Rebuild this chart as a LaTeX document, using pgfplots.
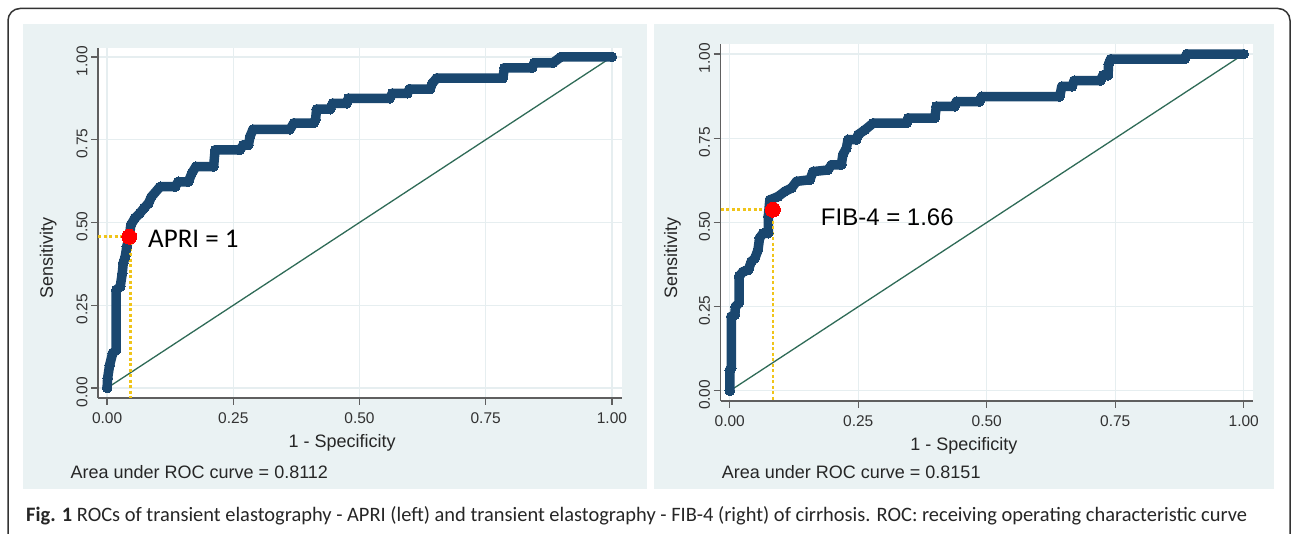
\documentclass[border=0pt]{standalone}
\usepackage{pgfplots}
\pgfplotsset{compat=1.18}
\usepackage{fontspec}
\setmainfont{Liberation Sans}
\newfontfamily\carlito{Carlito}
\definecolor{navy}{HTML}{1A476F}
\definecolor{bgblue}{HTML}{EAF2F3}
\definecolor{refgreen}{HTML}{2F6B57}
\definecolor{gold}{HTML}{F0C419}
\definecolor{gridc}{HTML}{E6EEF0}
\definecolor{axisc}{HTML}{5F5F5F}
\pgfplotsset{
 rocax/.style={
   scale only axis, anchor=south west,
   axis x line*=bottom, axis y line*=left,
   axis line style={-, draw=axisc, line width=1.2pt},
   tick style={draw=axisc, line width=1.2pt},
   tick align=outside, major tick length=7pt,
   xtick={0,0.25,0.5,0.75,1}, ytick={0,0.25,0.5,0.75,1},
   xticklabels={0.00,0.25,0.50,0.75,1.00},
   yticklabels={0.00,0.25,0.50,0.75,1.00},
   grid=major, major grid style={draw=gridc, line width=1.2pt},
   axis background/.style={fill=white},
   ticklabel style={font=\fontsize{15.5}{16}\selectfont, text=black!80},
   yticklabel style={rotate=90, anchor=south, xshift=-4pt},
   xticklabel style={yshift=-4pt},
   label style={font=\fontsize{18}{20}\selectfont, text=black!85},
   xlabel={1 - Specificity}, ylabel={Sensitivity},
   clip=false,
   /pgf/number format/assume math mode=true,
 },
 roccurve/.style={navy, line width=9.5pt, line join=round, line cap=round, mark=*, mark size=4.8pt, mark options={navy, line width=0pt}},
 refline/.style={refgreen, line width=1.3pt},
 goldline/.style={gold, line width=2.6pt, dash pattern=on 3pt off 2.5pt},
}
\begin{document}
\begin{tikzpicture}
\useasboundingbox (0pt,0pt) rectangle (1293pt,534pt);
\fill[white] (0pt,0pt) rectangle (1293pt,534pt);
\fill[bgblue] (23pt,45pt) rectangle (647pt,509.5pt);
\fill[bgblue] (654pt,45pt) rectangle (1274pt,509.5pt);
\draw[black!80, line width=1.5pt, rounded corners=12pt] (8pt,0pt) -- (8pt,525.5pt) -- (1290pt,525.5pt) -- (1290pt,0pt);

% left panel
\begin{axis}[rocax, at={(98pt,136pt)}, width=524pt, height=350pt,
  xmin=-0.018, xmax=1.02, ymin=-0.03, ymax=1.027,
  xlabel style={at={(axis description cs:0.466,-0.129)}, anchor=center},
  ylabel style={at={(axis description cs:-0.095,0.40)}, anchor=center}]
\addplot[refline] coordinates {(0,0) (1,1)};
\addplot[roccurve] coordinates {
(0,0) (0.001,0.029) (0.005,0.069) (0.011,0.105) (0.018,0.115) (0.018,0.296)
(0.026,0.306) (0.030,0.346) (0.032,0.377) (0.036,0.397) (0.039,0.427) (0.044,0.457)
(0.047,0.492) (0.055,0.513) (0.065,0.528) (0.073,0.543) (0.082,0.558) (0.088,0.578)
(0.105,0.608) (0.135,0.608) (0.141,0.623) (0.161,0.623) (0.168,0.649) (0.176,0.669)
(0.211,0.669) (0.214,0.719) (0.263,0.719) (0.270,0.734) (0.280,0.734) (0.283,0.759)
(0.289,0.781) (0.362,0.781) (0.370,0.800) (0.409,0.800) (0.413,0.812) (0.415,0.842)
(0.442,0.842) (0.447,0.860) (0.475,0.860) (0.478,0.875) (0.560,0.875) (0.565,0.890)
(0.595,0.890) (0.599,0.903) (0.640,0.903) (0.644,0.920) (0.653,0.936) (0.784,0.936)
(0.787,0.967) (0.842,0.967) (0.846,0.982) (0.883,0.982) (0.899,1.0) (1,1)};
\addplot[goldline] coordinates {(-0.018,0.457) (0.044,0.457)};
\addplot[goldline] coordinates {(0.046,0.457) (0.046,-0.03)};
\addplot[only marks, mark=*, mark size=7.5pt, mark options={red, line width=0pt}] coordinates {(0.044,0.457)};
\node[anchor=base west, inner sep=0pt, font=\carlito\fontsize{27}{28}\selectfont] at (axis cs:0.081,0.423) {APRI = 1};
\end{axis}
\node[anchor=base west, inner sep=0pt, font=\fontsize{18}{20}\selectfont, text=black!85] at (70.5pt,55pt) {Area under ROC curve = 0.8112};

% right panel
\begin{axis}[rocax, at={(720.5pt,133pt)}, width=532.5pt, height=357pt,
  xmin=-0.018, xmax=1.018, ymin=-0.03, ymax=1.03,
  xlabel style={at={(axis description cs:0.457,-0.125)}, anchor=center},
  ylabel style={at={(axis description cs:-0.090,0.40)}, anchor=center}]
\addplot[refline] coordinates {(0,0) (1,1)};
\addplot[roccurve] coordinates {
(0,0) (0.0,0.062) (0.003,0.067) (0.003,0.221) (0.010,0.226) (0.011,0.250)
(0.018,0.261) (0.018,0.340) (0.026,0.354) (0.036,0.359) (0.042,0.384) (0.049,0.394)
(0.055,0.419) (0.058,0.454) (0.065,0.468) (0.075,0.468) (0.075,0.518) (0.078,0.567)
(0.094,0.577) (0.107,0.592) (0.120,0.602) (0.130,0.622) (0.156,0.627) (0.162,0.651)
(0.191,0.656) (0.198,0.671) (0.217,0.671) (0.220,0.701) (0.227,0.721) (0.230,0.746)
(0.246,0.746) (0.250,0.761) (0.263,0.775) (0.279,0.795) (0.344,0.795) (0.347,0.810)
(0.399,0.810) (0.402,0.845) (0.438,0.845) (0.441,0.859) (0.486,0.859) (0.490,0.874)
(0.642,0.874) (0.646,0.904) (0.666,0.904) (0.670,0.921) (0.721,0.921) (0.726,0.937)
(0.736,0.937) (0.737,0.970) (0.741,0.985) (0.885,0.985) (0.889,1.0) (1,1)};
\addplot[goldline] coordinates {(-0.018,0.538) (0.084,0.538)};
\addplot[goldline] coordinates {(0.084,0.538) (0.084,-0.03)};
\addplot[only marks, mark=*, mark size=7.5pt, mark options={red, line width=0pt}] coordinates {(0.084,0.538)};
\node[anchor=base west, inner sep=0pt, font=\fontsize{24}{26}\selectfont] at (axis cs:0.177,0.490) {FIB-4 = 1.66};
\end{axis}
\node[anchor=base west, inner sep=0pt, font=\fontsize{18}{20}\selectfont, text=black!85] at (721.7pt,55pt) {Area under ROC curve = 0.8151};

\node[anchor=base west, inner sep=0pt, text=black!85] at (26pt,12pt) {\resizebox{1221pt}{\height}{\carlito\fontsize{20.5}{22}\selectfont\textbf{Fig. 1} ROCs of transient elastography - APRI (left) and transient elastography - FIB-4 (right) of cirrhosis. ROC: receiving operating characteristic curve}};
\end{tikzpicture}
\end{document}
